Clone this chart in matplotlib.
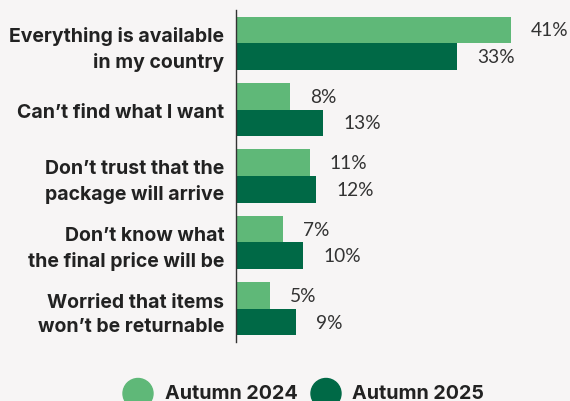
import matplotlib
matplotlib.use("Agg")
import matplotlib.pyplot as plt
from matplotlib.patches import Ellipse

# data
categories = [
    "Everything is available\nin my country",
    "Can\u2019t find what I want",
    "Don\u2019t trust that the\npackage will arrive",
    "Don\u2019t know what\nthe final price will be",
    "Worried that items\nwon\u2019t be returnable",
]
autumn_2024 = [41, 8, 11, 7, 5]
autumn_2025 = [33, 13, 12, 10, 9]
series_names = ["Autumn 2024", "Autumn 2025"]

bg = "#f7f5f5"
light = "#5fb878"
dark = "#006946"
txt = "#222222"

fig = plt.figure(figsize=(5.7, 4.02), dpi=100, facecolor=bg)
ax = fig.add_axes([236 / 570, 59 / 402, 334 / 570, 332 / 402], facecolor=bg)

idx = list(range(len(categories)))
b1 = ax.barh([i - 0.2 for i in idx], autumn_2024, height=0.4, color=light)
b2 = ax.barh([i + 0.2 for i in idx], autumn_2025, height=0.4, color=dark)

# value labels right of each bar
for bars, vals in [(b1, autumn_2024), (b2, autumn_2025)]:
    ax.bar_label(bars, labels=[f"{v}%" for v in vals], padding=14.5,
                 fontsize=13.8, family="Lato", color="#333333")

ax.set_xlim(0, 334 / 6.7)
ax.set_ylim(4.5, -0.5)
ax.set_yticks(idx)
ax.set_yticklabels(categories, fontsize=14, family="Inter", fontweight="bold",
                   color=txt, linespacing=1.45)
ax.tick_params(axis="y", length=0, pad=8.5)
ax.set_xticks([])
for s in ["top", "right", "bottom"]:
    ax.spines[s].set_visible(False)
ax.spines["left"].set_color("#333333")
ax.spines["left"].set_linewidth(1.0)

# legend with round markers
for cx, tx, name, col in [(138, 165, series_names[0], light), (326, 352, series_names[1], dark)]:
    fig.add_artist(Ellipse((cx / 570, 7.5 / 402), 30 / 570, 30 / 402,
                           transform=fig.transFigure, color=col))
    fig.text(tx / 570, 2.5 / 402, name, fontsize=14.2, family="Inter", fontweight="bold",
             color=txt, ha="left", va="baseline")

fig.savefig("out.png", dpi=100, facecolor=bg)
